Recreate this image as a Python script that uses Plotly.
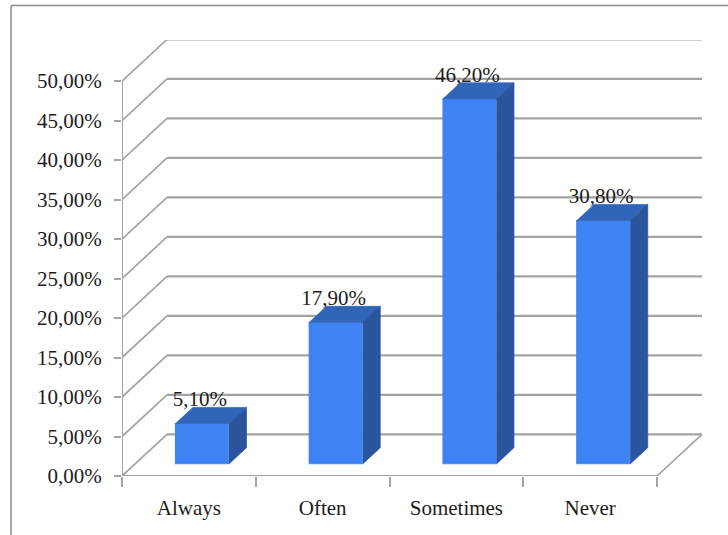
import plotly.graph_objects as go

categories = ["Always", "Often", "Sometimes", "Never"]
values = [5.1, 17.9, 46.2, 30.8]
value_labels = ["5,10%", "17,90%", "46,20%", "30,80%"]
tick_values = [0, 5, 10, 15, 20, 25, 30, 35, 40, 45, 50]
tick_labels = ["0,00%", "5,00%", "10,00%", "15,00%", "20,00%", "25,00%", "30,00%", "35,00%", "40,00%", "45,00%", "50,00%"]

# oblique projection: one unit of depth moves right and up in data units
DEPTH_X = 0.3364
DEPTH_Y = 5.27
BAR_WIDTH = 0.404
BAR_FRONT = 0.29
BAR_BACK = 0.68
LABEL_DROP = 0.5
GRID = "#a3a3a3"
FONT = "Liberation Serif"
TEXT = "#1c1c1c"
N = len(categories)


def px(x, d):
    return x + DEPTH_X * d


def py(v, d):
    return v + DEPTH_Y * d


fig = go.Figure()


def line(xs, ys, width=2, color=GRID):
    fig.add_trace(go.Scatter(x=xs, y=ys, mode="lines", line=dict(color=color, width=width),
                             hoverinfo="skip", showlegend=False))


def poly(xs, ys, color, edge=None):
    fig.add_trace(go.Scatter(x=xs, y=ys, mode="lines", fill="toself", fillcolor=color,
                             line=dict(color=edge or color, width=0.7), hoverinfo="skip", showlegend=False))


for t in tick_values:
    line([0, px(0, 1)], [t, py(t, 1)], 1.7)
    line([px(0, 1), px(N, 1)], [py(t, 1), py(t, 1)], 2.2)
line([N, px(N, 1)], [0, py(0, 1)], 1.7)
line([0, 0], [0, tick_values[-1]], 2)
line([0, N], [0, 0], 2)

centers = [i + 0.5 for i in range(N)]
for c, v in zip(centers, values):
    l = c - BAR_WIDTH / 2
    r = c + BAR_WIDTH / 2
    poly([px(l, BAR_FRONT), px(r, BAR_FRONT), px(r, BAR_FRONT), px(l, BAR_FRONT)],
         [py(0, BAR_FRONT), py(0, BAR_FRONT), py(v, BAR_FRONT), py(v, BAR_FRONT)], "#3f82f4", "#6f9ff0")
    poly([px(l, BAR_FRONT), px(r, BAR_FRONT), px(r, BAR_BACK), px(l, BAR_BACK)],
         [py(v, BAR_FRONT), py(v, BAR_FRONT), py(v, BAR_BACK), py(v, BAR_BACK)], "#3165b8")
    poly([px(r, BAR_FRONT), px(r, BAR_BACK), px(r, BAR_BACK), px(r, BAR_FRONT)],
         [py(0, BAR_FRONT), py(0, BAR_BACK), py(v, BAR_BACK), py(v, BAR_FRONT)], "#2a549c")

fig.add_trace(go.Scatter(
    x=[px(c, BAR_FRONT) - 0.015 for c in centers],
    y=[py(v, BAR_BACK) - LABEL_DROP for v in values],
    mode="text",
    text=value_labels,
    textposition="top center",
    textfont=dict(family=FONT, size=21, color=TEXT),
    hoverinfo="skip",
    showlegend=False,
))

fig.update_layout(
    width=728,
    height=535,
    margin=dict(l=122, r=25, t=40, b=59, pad=0),
    paper_bgcolor="white",
    plot_bgcolor="white",
    showlegend=False,
    xaxis=dict(
        range=[0, 581 / 133.75],
        tickmode="array",
        tickvals=centers,
        ticktext=categories,
        ticks="",
        showgrid=False,
        zeroline=False,
        showline=False,
        ticklabelstandoff=17,
        tickfont=dict(family=FONT, size=21, color=TEXT),
        minor=dict(tickmode="array", tickvals=list(range(N + 1)), ticks="outside", ticklen=10,
                   tickcolor=GRID, tickwidth=1.5, showgrid=False),
    ),
    yaxis=dict(
        range=[0, 435 / 7.88],
        tickmode="array",
        tickvals=tick_values,
        ticktext=tick_labels,
        ticks="outside",
        ticklen=7,
        tickcolor=GRID,
        tickwidth=1.5,
        showgrid=False,
        zeroline=False,
        showline=False,
        ticklabelstandoff=8,
        tickfont=dict(family=FONT, size=21, color=TEXT),
    ),
    shapes=[
        dict(type="line", xref="paper", yref="paper", x0=-0.191, x1=1.05, y0=1.0793, y1=1.0793,
             line=dict(color="#8c8c8c", width=1.5)),
        dict(type="line", xref="paper", yref="paper", x0=-0.191, x1=-0.191, y0=1.0793, y1=-0.1356,
             line=dict(color="#8c8c8c", width=1.5)),
    ],
)

fig.write_html("out.html", config={"displayModeBar": False},
               post_script="document.body.style.margin='0';document.documentElement.style.overflow='hidden';")
